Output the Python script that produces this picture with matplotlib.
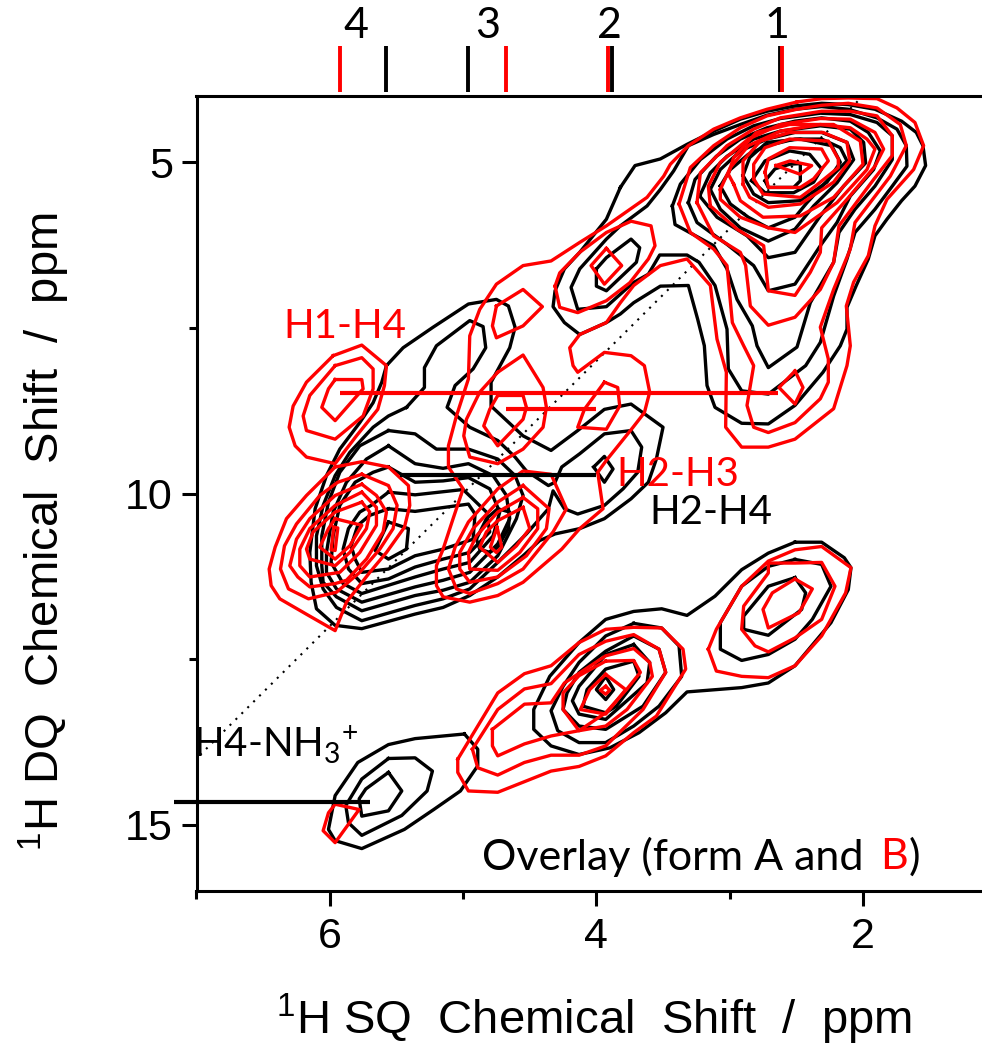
import numpy as np
import matplotlib
matplotlib.use("Agg")
import matplotlib.pyplot as plt

plt.rcParams['mathtext.default'] = 'regular'
plt.rcParams['mathtext.fontset'] = 'custom'
plt.rcParams['mathtext.rm'] = 'Liberation Sans'

# form A contours, (SQ ppm, DQ ppm)
k_top_1 = [(3.82,5.38),(3.71,5.05),(3.52,4.95),(3.32,4.73),(3.12,4.53),(2.92,4.35),(2.72,4.23),(2.51,4.15),(2.31,4.11),(2.11,4.13),(1.91,4.20),(1.71,4.38),(1.60,4.55),(1.55,4.75),(1.53,5.05),(1.61,5.36),(1.71,5.58),(1.82,5.86),(1.91,6.11),(1.96,6.46),(2.05,6.86),(2.12,7.19),(2.12,7.52),(2.17,7.77),(2.30,8.17),(2.51,8.67),(2.71,8.95),(2.91,8.94),(3.11,8.70),(3.17,8.37),(3.19,7.77),(3.24,7.37),(3.31,6.86),(3.52,6.87),(3.72,7.12),(3.82,7.29),(3.925,7.42),(4.125,7.60),(4.24,7.42),(4.325,7.18),(4.31,6.94),(4.24,6.61),(4.125,6.36),(3.925,5.86)]
k_top_2 = [(3.31,4.75),(3.42,5.13),(3.52,5.41),(3.62,5.66),(3.82,5.96),(3.925,6.16),(4.125,6.61),(4.19,6.89),(4.14,7.22),(3.925,7.18),(3.725,6.82),(3.61,6.69),(3.525,6.40),(3.32,6.40),(3.23,6.51),(3.11,6.86),(3.02,7.52),(3.01,8.12),(2.91,8.45),(2.71,8.50),(2.43,8.07),(2.32,7.72),(2.22,7.02),(2.12,6.46),(2.06,6.06),(1.91,5.71),(1.78,5.36),(1.67,5.06),(1.675,4.75),(1.745,4.50),(1.895,4.33),(2.11,4.20),(2.31,4.16),(2.51,4.20),(2.72,4.29),(2.92,4.43),(3.12,4.58)]
k_top_3 = [(3.43,5.66),(3.37,5.33),(3.22,4.96),(3.02,4.65),(2.82,4.45),(2.62,4.34),(2.32,4.26),(2.095,4.28),(1.895,4.40),(1.78,4.60),(1.78,4.96),(1.91,5.36),(2.06,5.71),(2.18,6.06),(2.22,6.51),(2.395,7.12),(2.495,7.79),(2.71,8.10),(2.795,7.77),(2.83,7.47),(2.945,7.07),(3.02,6.61),(3.12,6.26),(3.41,5.94)]
k_top_4 = [(3.31,5.61),(3.26,5.26),(3.10,4.91),(2.92,4.65),(2.72,4.48),(2.51,4.38),(2.31,4.33),(2.095,4.38),(1.96,4.55),(1.87,4.83),(1.92,5.11),(2.095,5.51),(2.195,5.91),(2.32,6.26),(2.51,6.84),(2.71,6.94),(2.82,6.56),(3.02,6.24),(3.245,5.91)]
k_top_5 = [(3.225,5.51),(3.145,5.16),(3.02,4.91),(2.82,4.65),(2.62,4.53),(2.32,4.45),(2.095,4.50),(1.995,4.70),(1.98,5.01),(2.145,5.36),(2.32,5.81),(2.51,6.36),(2.71,6.44),(2.87,6.11),(3.095,5.83)]
k_top_6 = [(3.145,5.41),(3.07,5.11),(2.92,4.83),(2.72,4.65),(2.51,4.55),(2.31,4.55),(2.12,4.70),(2.07,4.96),(2.195,5.31),(2.37,5.66),(2.51,6.01),(2.71,6.19),(2.92,5.99),(3.07,5.71)]
k_top_7 = [(3.07,5.36),(2.995,5.11),(2.86,4.88),(2.72,4.75),(2.51,4.65),(2.31,4.65),(2.17,4.78),(2.12,4.98),(2.26,5.26),(2.42,5.61),(2.51,5.83),(2.71,5.99),(2.86,5.83),(2.995,5.63)]
k_top_8 = [(2.90,5.20),(2.82,5.48),(2.71,5.61),(2.47,5.58),(2.27,5.30),(2.17,5.00),(2.235,4.75),(2.47,4.65),(2.72,4.70),(2.85,4.93)]
k_top_9 = [(2.835,5.28),(2.735,5.46),(2.52,5.46),(2.37,5.30),(2.31,5.10),(2.40,4.88),(2.55,4.83),(2.735,4.98)]
k_top_10 = [(2.735,5.28),(2.66,5.10),(2.55,5.03),(2.47,5.02),(2.47,5.28),(2.52,5.38),(2.71,5.38)]
k_small = [(4.00,6.61),(3.925,6.44),(3.74,6.16),(3.675,6.29),(3.70,6.51),(3.925,6.94),(4.00,6.87)]
k_diamond = [(4.02,9.60),(3.94,9.44),(3.875,9.63),(3.94,9.83)]

k_mid_1 = [(5.575,8.07),(5.45,7.80),(5.225,7.49),(4.96,7.14),(4.75,7.07),(4.66,7.17),(4.61,7.49),(4.65,7.80),(4.79,8.32),(4.79,8.68),(4.55,9.13),(4.34,9.35),(4.14,9.05),(3.94,8.73),(3.74,8.65),(3.50,9.00),(3.55,9.48),(3.61,9.83),(3.74,10.08),(3.94,10.38),(4.125,10.53),(4.31,10.61),(4.425,10.71),(4.55,10.94),(4.74,11.26),(4.95,11.54),(5.15,11.72),(5.36,11.82),(5.76,12.04),(5.96,11.99),(6.10,11.74),(6.14,11.34),(6.15,10.89),(6.11,10.23),(6.025,9.73),(5.925,9.33),(5.775,8.93),(5.675,8.63),(5.61,8.32)]
k_mid_2 = [(5.425,8.70),(5.29,8.40),(5.29,8.10),(5.20,7.77),(4.95,7.39),(4.85,7.48),(4.83,7.80),(4.925,8.12),(5.06,8.37),(5.12,8.70),(4.95,9.00),(4.74,9.20),(4.61,9.45),(4.525,9.66),(4.36,9.88),(4.31,9.83),(4.26,9.60),(4.125,9.40),(3.94,9.10),(3.74,9.05),(3.66,9.30),(3.69,9.68),(3.80,9.93),(3.94,10.18),(4.14,10.31),(4.24,10.23),(4.325,9.96),(4.36,10.23),(4.525,10.61),(4.74,11.04),(4.95,11.44),(5.15,11.59),(5.36,11.69),(5.76,11.92),(5.95,11.72),(6.05,11.44),(6.10,11.09),(6.10,10.64),(6.05,10.18),(5.96,9.73),(5.85,9.38),(5.675,9.00),(5.56,8.83)]
k_mid_3 = [(5.56,9.05),(5.36,9.10),(5.20,9.33),(4.96,9.33),(4.74,9.48),(4.61,9.73),(4.55,10.03),(4.60,10.38),(4.74,10.94),(4.95,11.34),(5.15,11.46),(5.36,11.54),(5.76,11.77),(5.95,11.56),(6.05,11.34),(6.06,11.09),(6.06,10.64),(6.01,10.13),(5.925,9.68),(5.775,9.28)]
k_mid_4 = [(5.56,9.28),(5.36,9.55),(5.15,9.62),(4.96,9.55),(4.775,9.73),(4.675,10.03),(4.65,10.38),(4.74,10.76),(4.95,11.19),(5.15,11.31),(5.36,11.41),(5.76,11.64),(5.95,11.44),(6.025,11.19),(6.025,10.89),(5.975,10.28),(5.875,9.83),(5.725,9.48)]
k_mid_5 = [(5.56,9.60),(5.36,9.83),(5.15,9.81),(4.96,9.76),(4.80,9.93),(4.725,10.28),(4.775,10.64),(4.95,11.04),(5.15,11.14),(5.36,11.26),(5.76,11.51),(5.90,11.36),(5.99,11.04),(5.975,10.64),(5.925,10.18),(5.81,9.83),(5.675,9.68)]
k_mid_6 = [(5.56,9.98),(5.36,10.02),(5.00,9.94),(4.825,10.28),(4.80,10.58),(4.95,10.89),(5.15,10.99),(5.36,11.11),(5.56,11.29),(5.76,11.36),(5.86,11.14),(5.90,10.84),(5.86,10.53),(5.775,10.28),(5.69,10.18)]
k_mid_7 = [(5.56,10.23),(5.36,10.27),(4.96,10.16),(4.91,10.31),(4.925,10.69),(5.15,10.84),(5.36,10.94),(5.56,11.14),(5.76,11.19),(5.81,10.99),(5.84,10.79),(5.79,10.48),(5.70,10.33)]
k_mid_8 = [(5.56,10.43),(5.41,10.53),(5.425,10.84),(5.56,10.99),(5.66,10.86),(5.61,10.64)]
k_mid_9 = [(4.90,10.69),(4.825,10.38),(4.74,10.23),(4.65,10.28),(4.66,10.53),(4.74,10.81),(4.80,10.89),(4.875,10.84)]

k_low_1 = [(2.51,10.735),(2.31,10.735),(2.14,10.97),(2.09,11.12),(2.11,11.45),(2.24,11.95),(2.51,12.60),(2.71,12.86),(2.91,12.93),(3.32,12.995),(3.48,13.31),(3.68,13.61),(3.90,13.84),(4.13,13.94),(4.34,13.81),(4.47,13.56),(4.47,13.26),(4.35,12.76),(4.13,12.25),(3.93,11.90),(3.72,11.78),(3.51,11.74),(3.32,11.84),(3.11,11.55),(2.91,11.15),(2.71,10.90)]
k_low_2 = [(2.51,10.995),(2.31,11.07),(2.24,11.40),(2.38,11.90),(2.51,12.20),(2.71,12.43),(2.91,12.52),(3.07,12.35),(3.07,11.95),(2.91,11.40),(2.71,11.10)]
k_low_3 = [(2.51,11.27),(2.43,11.50),(2.46,11.75),(2.71,12.14),(2.895,12.05),(2.895,11.85),(2.71,11.40)]
k_low_4 = [(3.72,11.96),(3.51,12.03),(3.38,12.30),(3.36,12.76),(3.53,13.21),(3.72,13.51),(3.93,13.76),(4.13,13.76),(4.29,13.58),(4.34,13.28),(4.25,12.91),(4.13,12.55),(3.93,12.15)]
k_low_5 = [(3.72,12.15),(3.53,12.35),(3.48,12.70),(3.65,13.21),(3.93,13.56),(4.13,13.51),(4.25,13.26),(4.22,13.01),(4.13,12.70),(3.93,12.38)]
k_low_6 = [(3.72,12.28),(3.60,12.55),(3.62,12.86),(3.93,13.41),(4.13,13.33),(4.18,13.13),(4.13,12.91),(3.93,12.43)]
k_low_7 = [(3.72,12.53),(3.68,12.76),(3.85,13.21),(3.93,13.31),(4.10,13.21),(4.07,12.96),(3.93,12.65)]
k_low_8 = [(3.93,12.76),(3.87,12.96),(3.93,13.11),(4.00,12.96)]
k_nh3_1 = [(4.99,13.63),(4.89,13.86),(4.89,14.11),(5.02,14.49),(5.22,14.77),(5.44,15.07),(5.76,15.36),(5.96,15.24),(6.01,15.07),(5.96,14.56),(5.79,14.06),(5.56,13.79),(5.36,13.70)]
k_nh3_2 = [(5.56,14.00),(5.36,13.99),(5.23,14.19),(5.27,14.49),(5.46,14.86),(5.76,15.16),(5.86,14.97),(5.88,14.71),(5.76,14.31)]
k_nh3_3 = [(5.56,14.21),(5.46,14.49),(5.56,14.79),(5.76,14.87),(5.78,14.61),(5.73,14.46)]

# form B contours
r_top_1 = [(2.495,4.09),(2.31,4.04),(2.11,4.03),(1.895,4.04),(1.745,4.18),(1.61,4.40),(1.545,4.75),(1.62,5.11),(1.82,5.56),(1.91,5.96),(1.96,6.41),(2.07,6.81),(2.125,7.17),(2.095,7.77),(2.12,8.07),(2.22,8.72),(2.51,9.18),(2.71,9.30),(2.91,9.30),(3.03,9.00),(3.025,8.17),(3.095,7.67),(3.145,6.86),(3.32,6.46),(3.52,6.56),(3.72,6.86),(3.82,7.12),(3.925,7.42),(4.125,7.60),(4.20,7.80),(4.175,8.07),(4.14,8.17),(3.94,7.87),(3.74,7.92),(3.64,8.07),(3.60,8.47),(3.64,8.78),(3.725,9.00),(3.925,9.50),(3.99,9.68),(3.95,10.23),(4.125,10.53),(4.26,10.84),(4.55,11.34),(4.74,11.54),(4.95,11.64),(5.15,11.56),(5.20,11.39),(5.20,11.09),(5.15,10.84),(5.075,10.38),(5.00,9.93),(5.11,9.60),(5.11,9.28),(5.05,8.83),(4.96,8.27),(4.95,7.62),(4.875,7.22),(4.75,6.84),(4.55,6.56),(4.34,6.49),(4.125,6.21),(3.925,5.96),(3.62,5.53),(3.495,5.21),(3.445,5.03),(3.31,4.75),(3.12,4.50),(2.92,4.33),(2.72,4.20)]
r_top_2 = [(3.38,5.63),(3.295,5.08),(3.12,4.75),(2.92,4.48),(2.72,4.30),(2.495,4.20),(2.31,4.14),(2.11,4.11),(1.895,4.18),(1.72,4.43),(1.675,4.75),(1.795,5.21),(2.06,5.91),(2.095,6.31),(2.22,6.92),(2.32,7.49),(2.26,7.97),(2.26,8.32),(2.32,8.57),(2.51,8.93),(2.71,9.08),(2.82,9.00),(2.87,8.67),(2.82,8.07),(2.895,7.77),(2.98,7.42),(3.02,6.56),(3.12,6.31),(3.295,6.06)]
r_top_3 = [(3.245,5.61),(3.22,5.16),(3.02,4.75),(2.82,4.50),(2.62,4.33),(2.31,4.23),(2.095,4.23),(1.895,4.30),(1.78,4.60),(1.78,4.90),(1.92,5.26),(2.18,5.96),(2.22,6.51),(2.32,6.92),(2.51,7.34),(2.71,7.46),(2.845,7.17),(2.88,6.56),(2.92,6.36),(3.12,6.11)]
r_top_4 = [(3.145,5.66),(3.16,5.36),(3.07,5.00),(2.86,4.65),(2.62,4.43),(2.32,4.34),(2.095,4.35),(1.91,4.55),(1.845,4.80),(1.91,5.06),(2.12,5.56),(2.31,5.99),(2.32,6.36),(2.395,6.66),(2.51,7.01),(2.71,6.94),(2.745,6.26),(2.945,6.01)]
r_top_5 = [(3.07,5.41),(2.995,5.08),(2.86,4.75),(2.62,4.53),(2.32,4.43),(2.095,4.48),(1.97,4.65),(1.91,4.80),(1.97,5.11),(2.195,5.61),(2.51,6.06),(2.71,5.99),(2.92,5.83),(3.07,5.56)]
r_top_6 = [(2.97,5.33),(2.92,5.58),(2.75,5.83),(2.47,5.81),(2.22,5.53),(2.00,5.03),(2.02,4.68),(2.22,4.43),(2.55,4.43),(2.80,4.55),(2.97,4.93),(3.01,5.18)]
r_top_7 = [(2.90,5.33),(2.85,5.53),(2.71,5.68),(2.47,5.63),(2.22,5.30),(2.10,4.98),(2.12,4.70),(2.30,4.55),(2.55,4.55),(2.77,4.68),(2.90,4.98)]
r_top_8 = [(2.82,5.25),(2.75,5.48),(2.47,5.53),(2.35,5.35),(2.185,5.08),(2.185,4.95),(2.26,4.68),(2.55,4.65),(2.735,4.78),(2.82,5.03)]
r_top_9 = [(2.735,5.15),(2.71,5.38),(2.47,5.38),(2.37,5.25),(2.26,4.98),(2.31,4.80),(2.55,4.78),(2.71,4.95)]
r_top_10 = [(2.653,5.05),(2.548,4.98),(2.385,5.05),(2.473,5.18)]
r_diamond = [(2.51,8.15),(2.45,8.40),(2.51,8.65),(2.63,8.40)]

r_small_1 = [(4.31,6.87),(4.275,7.19),(4.14,7.27),(3.925,7.09),(3.75,6.82),(3.61,6.46),(3.56,6.26),(3.59,5.96),(3.74,5.89),(3.925,6.06),(4.125,6.36),(4.275,6.67)]
r_small_2 = [(3.925,6.30),(3.81,6.56),(3.94,6.84),(4.04,6.56)]
r_blob_1 = [(4.75,7.17),(4.55,6.92),(4.405,7.18),(4.55,7.47),(4.75,7.65),(4.78,7.47)]
r_blob_2 = [(4.74,8.17),(4.55,7.91),(4.40,8.40),(4.375,8.70),(4.40,9.00),(4.55,9.33),(4.74,9.55),(4.95,9.45),(4.995,9.13),(4.975,8.88),(4.875,8.47)]
r_blob_3 = [(4.74,8.52),(4.55,8.52),(4.525,8.70),(4.55,8.88),(4.74,9.28),(4.845,8.98),(4.80,8.73)]
r_blob_4 = [(3.94,8.32),(3.84,8.40),(3.825,8.68),(3.925,9.03),(4.14,9.00),(4.09,8.73)]

r_h14_1 = [(5.975,7.92),(5.76,7.76),(5.575,8.07),(5.59,8.37),(5.64,8.73),(5.80,9.13),(5.96,9.55),(6.175,9.45),(6.26,9.28),(6.305,9.00),(6.275,8.68),(6.175,8.32)]
r_h14_2 = [(5.96,8.07),(5.76,7.95),(5.675,8.12),(5.675,8.42),(5.75,8.83),(5.96,9.18),(6.175,9.05),(6.20,8.83),(6.15,8.52)]
r_h14_3 = [(5.96,8.28),(5.76,8.28),(5.75,8.42),(5.96,8.90),(6.06,8.70),(6.01,8.42)]

r_p4_1 = [(5.96,9.60),(5.76,9.52),(5.56,9.60),(5.41,9.88),(5.40,10.18),(5.44,10.51),(5.575,10.89),(5.70,11.19),(5.875,11.64),(5.96,12.07),(6.16,11.84),(6.375,11.59),(6.44,11.39),(6.455,11.14),(6.41,10.81),(6.325,10.38),(6.175,10.03)]
r_p4_2 = [(5.76,9.71),(5.56,9.88),(5.495,10.18),(5.525,10.53),(5.625,10.84),(5.775,11.19),(5.95,11.49),(6.16,11.59),(6.31,11.44),(6.37,11.14),(6.34,10.79),(6.25,10.46),(6.075,10.03),(5.94,9.83)]
r_p4_3 = [(5.76,9.86),(5.65,10.03),(5.575,10.28),(5.60,10.58),(5.725,10.99),(5.875,11.31),(5.96,11.36),(6.15,11.41),(6.24,11.26),(6.30,11.09),(6.25,10.69),(6.15,10.38),(5.96,10.03)]
r_p4_4 = [(5.76,9.98),(5.65,10.21),(5.65,10.48),(5.775,10.89),(5.925,11.19),(6.15,11.26),(6.225,11.09),(6.225,10.84),(6.15,10.53),(5.96,10.18)]
r_p4_5 = [(5.76,10.13),(5.70,10.28),(5.725,10.53),(5.85,10.89),(5.96,11.09),(6.15,10.99),(6.175,10.84),(6.125,10.58),(5.96,10.28)]
r_p4_6 = [(5.96,10.38),(5.76,10.48),(5.85,10.79),(5.96,10.99),(6.075,10.81),(6.01,10.53)]
r_p4_7 = [(5.97,10.51),(5.94,10.52),(5.96,10.86),(5.99,10.85)]

r_p3_1 = [(4.95,11.51),(5.05,11.44),(5.11,11.14),(5.06,10.81),(4.96,10.43),(4.74,9.93),(4.55,9.66),(4.34,9.71),(4.225,10.23),(4.325,10.58),(4.55,11.14),(4.74,11.36)]
r_p3_2 = [(4.55,9.88),(4.355,10.23),(4.375,10.53),(4.525,10.94),(4.74,11.26),(4.95,11.34),(5.025,11.14),(5.025,10.89),(4.925,10.53),(4.74,10.13)]
r_p3_3 = [(4.55,10.06),(4.44,10.23),(4.44,10.53),(4.575,10.89),(4.74,11.16),(4.95,11.14),(4.96,10.89),(4.90,10.64),(4.74,10.28)]
r_p3_4 = [(4.55,10.21),(4.50,10.53),(4.60,10.79),(4.74,11.04),(4.875,10.81),(4.825,10.58),(4.74,10.41)]
r_p3_5 = [(4.745,10.51),(4.71,10.81),(4.75,10.89),(4.795,10.81)]

r_low_1 = [(3.16,12.35),(3.10,12.05),(2.91,11.40),(2.71,11.02),(2.51,10.85),(2.31,10.80),(2.09,11.12),(2.13,11.50),(2.31,12.15),(2.51,12.60),(2.71,12.78),(2.91,12.76),(3.10,12.68)]
r_low_2 = [(2.71,11.05),(2.51,11.05),(2.31,11.04),(2.21,11.40),(2.31,11.90),(2.51,12.18),(2.71,12.39),(2.81,12.30),(2.91,12.05),(2.895,11.70),(2.71,11.20)]
r_low_3 = [(2.51,11.29),(2.38,11.44),(2.48,11.80),(2.71,12.03),(2.75,11.75),(2.68,11.50)]
r_low_4 = [(5.04,14.01),(4.92,13.61),(4.74,13.01),(4.54,12.72),(4.34,12.60),(4.13,12.25),(3.93,12.05),(3.72,12.02),(3.51,12.03),(3.35,12.35),(3.33,12.65),(3.55,13.36),(3.72,13.61),(3.93,13.96),(4.13,14.12),(4.34,14.19),(4.74,14.51),(4.96,14.49),(5.04,14.21)]
r_low_5 = [(4.93,13.86),(4.74,13.26),(4.54,12.95),(4.34,12.87),(4.13,12.43),(3.93,12.23),(3.72,12.13),(3.53,12.35),(3.48,12.70),(3.65,13.26),(3.93,13.81),(4.13,13.95),(4.34,13.95),(4.54,14.06),(4.74,14.25),(4.89,14.14)]
r_low_6 = [(4.78,13.56),(4.54,13.18),(4.34,13.16),(4.24,12.86),(3.93,12.45),(3.72,12.34),(3.60,12.55),(3.58,12.76),(3.77,13.26),(3.93,13.51),(4.13,13.58),(4.34,13.66),(4.54,13.78),(4.74,13.96),(4.78,13.81)]
r_low_7 = [(3.93,12.53),(3.72,12.52),(3.67,12.70),(3.77,12.95),(3.93,13.31),(4.13,13.58),(4.25,13.26),(4.25,13.01),(4.13,12.75)]
r_low_8 = [(3.93,12.73),(3.78,12.96),(3.93,13.33),(4.12,13.26),(4.05,12.96)]
r_low_9 = [(3.93,12.91),(3.90,12.97),(3.93,13.03),(3.97,12.97)]
r_nh3 = [(5.96,14.69),(5.78,14.77),(5.96,15.27),(6.05,15.09),(6.01,14.82)]

black_contours = [k_top_1, k_top_2, k_top_3, k_top_4, k_top_5, k_top_6, k_top_7, k_top_8, k_top_9, k_top_10,
                  k_small, k_diamond, k_mid_1, k_mid_2, k_mid_3, k_mid_4, k_mid_5, k_mid_6,
                  k_mid_7, k_mid_8, k_mid_9, k_low_1, k_low_2, k_low_3, k_low_4, k_low_5, k_low_6, k_low_7,
                  k_low_8, k_nh3_1, k_nh3_2, k_nh3_3]
red_contours = [r_top_1, r_top_2, r_top_3, r_top_4, r_top_5, r_top_6, r_top_7, r_top_8, r_top_9, r_top_10,
                r_diamond, r_small_1, r_small_2, r_blob_1, r_blob_2, r_blob_3, r_blob_4, r_h14_1,
                r_h14_2, r_h14_3, r_p4_1, r_p4_2, r_p4_3, r_p4_4, r_p4_5, r_p4_6, r_p4_7, r_p3_1, r_p3_2,
                r_p3_3, r_p3_4, r_p3_5, r_low_1, r_low_2, r_low_3, r_low_4, r_low_5, r_low_6, r_low_7,
                r_low_8, r_low_9, r_nh3]

# assignment lines: x start, x end, y
red_links = [(5.925, 2.64, 8.48), (4.675, 4.00, 8.73)]
black_links = [(5.475, 4.00, 9.72), (7.17, 5.70, 14.66)]

# peak markers above the frame
marker_black = [5.58, 4.965, 3.885, 2.62]
marker_red = [5.925, 4.68, 3.91, 2.61]
marker_y = [3.25, 3.94]
peak_numbers = ['4', '3', '2', '1']
peak_number_x = [5.805, 4.815, 3.90, 2.645]

diag_x = [2.04, 7.0]
diag_y = [4.08, 14.0]

BODY = 'Lato'
AXIS = 'Liberation Sans'
RED = '#ff0000'

fig = plt.figure(figsize=(9.82, 10.47), dpi=100)
ax = fig.add_axes([196.5 / 982, 1 - 891 / 1047, (982 - 196.5) / 982, (891 - 96) / 1047])


def draw_contours(contours, color):
    for c in contours:
        pts = np.array(c + [c[0]])
        ax.plot(pts[:, 0], pts[:, 1], color=color, lw=2.4, solid_joinstyle='round')


ax.plot(diag_x, diag_y, color='black', lw=1.5, ls=(0, (1, 3)), clip_on=False)
draw_contours(black_contours, 'black')
draw_contours(red_contours, RED)

for x0, x1, y in black_links:
    ax.plot([x0, x1], [y, y], color='black', lw=3.0, clip_on=False, solid_capstyle='butt')
for x0, x1, y in red_links:
    ax.plot([x0, x1], [y, y], color=RED, lw=3.0, clip_on=False, solid_capstyle='butt')

for x in marker_black:
    ax.plot([x, x], marker_y, color='black', lw=2.8, clip_on=False, solid_capstyle='butt')
for x in marker_red:
    ax.plot([x, x], marker_y, color=RED, lw=2.8, clip_on=False, solid_capstyle='butt')
for x, s in zip(peak_number_x, peak_numbers):
    ax.text(x, 2.95, s, fontsize=31, family=BODY, ha='center', va='center')

ax.set_xlim(7.0, 1.107)
ax.set_ylim(16.0, 4.0)
ax.spines['right'].set_visible(False)
ax.spines['top'].set_linewidth(2.2)
ax.spines['left'].set_linewidth(2.2)
ax.spines['bottom'].set_linewidth(2.2)
ax.set_xticks([2, 4, 6])
ax.set_xticks([3, 5, 7], minor=True)
ax.set_yticks([5, 10, 15])
ax.set_yticks([7.5, 12.5], minor=True)
ax.tick_params(which='major', length=11, width=2.2, labelsize=31)
ax.tick_params(which='minor', length=6, width=2.2)
ax.tick_params(axis='x', which='major', pad=8)
ax.tick_params(axis='y', which='major', pad=6)
for lab in ax.get_xticklabels() + ax.get_yticklabels():
    lab.set_family(AXIS)

fig.text(912 / 982, 1 - 1019 / 1047, '$^{1}$H SQ  Chemical  Shift  /  ppm', fontsize=34, family=AXIS,
         ha='right', va='center')
fig.text(44 / 982, 1 - 532 / 1047, '$^{1}$H DQ  Chemical  Shift  /  ppm', fontsize=34, family=AXIS,
         rotation=90, ha='center', va='center')

ax.text(5.89, 7.48, 'H1-H4', color=RED, fontsize=29, family=BODY, ha='center', va='center')
ax.text(3.85, 9.72, 'H2-H3', color=RED, fontsize=29, family=BODY, ha='left', va='center')
ax.text(3.60, 10.28, 'H2-H4', color='black', fontsize=29, family=BODY, ha='left', va='center')
ax.text(7.03, 13.79, 'H4-NH$_{3}$$^{+}$', color='black', fontsize=29, family=BODY, ha='left', va='center', clip_on=False)
ax.text(4.86, 15.48, 'Overlay (form A and', color='black', fontsize=31, family=BODY, ha='left', va='center')
ax.text(1.875, 15.48, 'B', color=RED, fontsize=31, family=BODY, ha='left', va='center')
ax.text(1.66, 15.48, ')', color='black', fontsize=31, family=BODY, ha='left', va='center')

fig.savefig('out.png', dpi=100)
